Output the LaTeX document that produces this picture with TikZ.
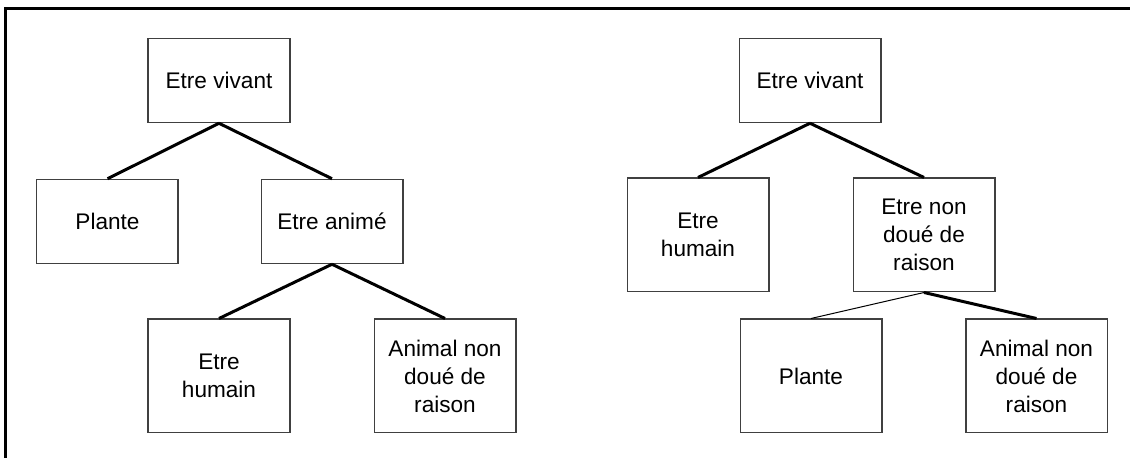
\documentclass[tikz,border=0pt]{standalone}
\usepackage{fontspec}
\setmainfont{Liberation Sans}
\usepackage{tikz}
\tikzstyle{term} = [rectangle, minimum width=70.75pt, minimum height=42pt, text centered, align=center, draw=black!75, line width=0.75pt, fill=white, font=\fontsize{11.3pt}{14pt}\selectfont]
\tikzstyle{tallterm} = [term, minimum height=56.75pt]
\tikzstyle{link} = [line width=1.5pt]
\tikzstyle{thinlink} = [line width=0.5pt]

\begin{document}
\begin{tikzpicture}[node distance=70.5pt]

\useasboundingbox (-109.5pt,40.25pt) rectangle (455.5pt,-188.75pt);
\draw [line width=1.5pt] (-106.5pt,-188.75pt) |- (455.5pt,35.75pt);

% first tree
\node (vivantA) [term] {Etre vivant};
\node (planteA) [term, below of=vivantA, xshift=-55.75pt] {Plante};
\node (animeA) [term, below of=vivantA, xshift=56.5pt] {Etre anim\'e};
\node (humainA) [tallterm, below of=animeA, xshift=-56.5pt, yshift=-6.75pt] {Etre\\humain};
\node (animalA) [tallterm, below of=animeA, xshift=56.5pt, yshift=-6.75pt] {Animal non\\dou\'e de\\raison};

\draw [link] (vivantA.south) -- (planteA.north);
\draw [link] (vivantA.south) -- (animeA.north);
\draw [link] (animeA.south) -- (humainA.north);
\draw [link] (animeA.south) -- (animalA.north);

% second tree
\node (vivantB) [term, right of=vivantA, xshift=225pt] {Etre vivant};
\node (humainB) [tallterm, below of=vivantB, xshift=-56pt, yshift=-6.75pt] {Etre\\humain};
\node (nonB) [tallterm, below of=vivantB, xshift=57pt, yshift=-6.75pt] {Etre non\\dou\'e de\\raison};
\node (planteB) [tallterm, below of=nonB, xshift=-56.5pt] {Plante};
\node (animalB) [tallterm, below of=nonB, xshift=56.25pt] {Animal non\\dou\'e de\\raison};

\draw [link] (vivantB.south) -- (humainB.north);
\draw [link] (vivantB.south) -- (nonB.north);
\draw [thinlink] (nonB.south) -- (planteB.north);
\draw [link] (nonB.south) -- (animalB.north);

\end{tikzpicture}
\end{document}
